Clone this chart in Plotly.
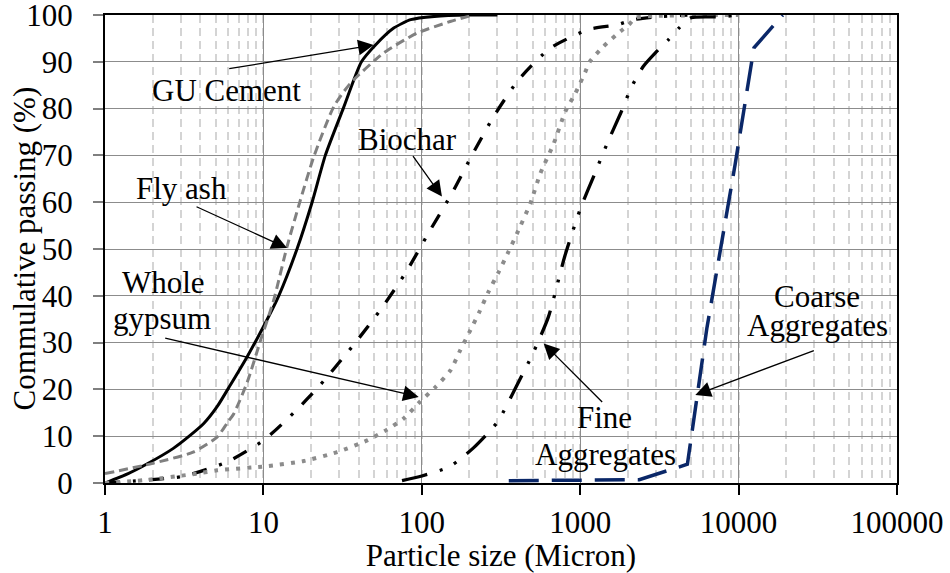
import math
import plotly.graph_objects as go

# Particle size distributions: size in micron, cumulative passing in %
gu_size = [1, 1.4, 1.85, 2.7, 3.4, 4.2, 5.1, 6.2, 7.9, 10, 12.5, 16.3, 20.3, 24.6, 31.9, 41.6, 51, 66.5, 85, 120, 200, 300]
gu_pass = [0, 2, 4.1, 7.4, 10, 12.7, 16.3, 21, 27, 33.4, 40, 50, 60, 70, 80, 90, 93.6, 97.2, 99, 99.7, 100, 100]

fly_size = [1, 2, 3.6, 5.1, 5.9, 6.5, 7.9, 9.6, 11.6, 14.1, 17.1, 20.8, 27.8, 35.4, 57.5, 93, 151, 212]
fly_pass = [2, 4.2, 6.6, 9.8, 12.8, 14.8, 21.5, 30.5, 39, 50.5, 60.4, 69.7, 80.4, 85.4, 91.9, 96.1, 98.6, 100]

bio_size = [1, 1.5, 3.1, 5.9, 10.2, 16.3, 21.8, 25.3, 38.1, 56.2, 80.7, 110.6, 155, 208, 284, 409, 646, 1125, 1710, 2160, 3000, 4750]
bio_pass = [0, 0.4, 1.4, 4.5, 9.3, 15.7, 20.2, 22.7, 30, 37.5, 45.4, 53.5, 61.9, 70.1, 78.3, 86.2, 92.9, 96.9, 97.9, 99, 99.6, 100]

gyp_size = [1, 1.75, 3.8, 5.1, 10.6, 18, 29.2, 45.2, 60.4, 76.9, 97, 122, 152, 175, 203, 232, 264, 306, 349, 400, 485,
            561, 680, 806, 933, 1079, 1148, 1406, 1795, 2025, 2230, 3000, 10000]
gyp_pass = [0, 0.6, 2, 2.7, 3.6, 4.7, 6.6, 9.1, 11.4, 13.8, 17.3, 20.5, 24.1, 28.4, 32.7, 36.7, 40.9, 45.1, 49.1, 53.4, 59.8,
            66.2, 72.5, 79.4, 83.3, 87.9, 90, 93.3, 96.5, 97.9, 99.4, 99.8, 100]

fine_size = [75, 100, 150, 212, 300, 400, 500, 630, 800, 1000, 1250, 1500, 1800, 2100, 2500, 3000, 3600, 4200, 5000, 7500, 10000]
fine_pass = [0.5, 1.5, 3.5, 7.5, 13, 21, 27.5, 35.5, 48.5, 58.5, 66.5, 73, 79, 84.5, 89, 92, 94.7, 97.2, 99.4, 99.6, 100]

coarse_size = [354, 2360, 4750, 6300, 9500, 12500, 19000]
coarse_pass = [0.5, 0.7, 4, 33, 68, 93, 100]

x_ticks = [1, 10, 100, 1000, 10000, 100000]
x_tick_text = ["1", "10", "100", "1000", "10000", "100000"]
y_ticks = [0, 10, 20, 30, 40, 50, 60, 70, 80, 90, 100]

FONT = "Liberation Serif, Times New Roman, serif"
FS = 31

W, H = 950, 573
ML, MR, MT, MB = 105, 53, 15, 90

series = [
    (gu_size, gu_pass, "GU Cement", dict(color="black", width=3, shape="spline", smoothing=0.6)),
    (fly_size, fly_pass, "Fly ash", dict(color="#808080", width=3, dash="9px,5px", shape="spline", smoothing=0.6)),
    (bio_size, bio_pass, "Biochar", dict(color="black", width=3.3, dash="15px,13px,3px,13px", shape="spline", smoothing=0.6)),
    (gyp_size, gyp_pass, "Whole gypsum", dict(color="#8c8c8c", width=4, dash="4px,7px", shape="spline", smoothing=0.6)),
    (fine_size, fine_pass, "Fine Aggregates", dict(color="black", width=3.3, dash="26px,13px,3px,13px,3px,13px",
                                                   shape="spline", smoothing=0.6)),
    (coarse_size, coarse_pass, "Coarse Aggregates", dict(color="#0a2768", width=3.5, dash="30px,13px")),
]

fig = go.Figure()
for xs, ys, name, line in series:
    fig.add_trace(go.Scatter(x=xs, y=ys, mode="lines", name=name, line=line, showlegend=False))


def to_paper(px, py):
    return (px - ML) / (W - ML - MR), (H - MB - py) / (H - MT - MB)


# Label text: (text, centre x px, baseline y px)
labels = [
    ("GU Cement", 226, 100),
    ("Fly ash", 181, 198),
    ("Biochar", 407.5, 149),
    ("Whole", 163, 292),
    ("gypsum", 162, 328),
    ("Fine", 604, 427),
    ("Aggregates", 605, 463.3),
    ("Coarse", 817, 306),
    ("Aggregates", 817, 335),
]
annotations = []
for text, px, base in labels:
    xp, yp = to_paper(px, base - 0.3 * FS)
    annotations.append(dict(text=text, x=xp, y=yp, xref="paper", yref="paper", showarrow=False,
                            xanchor="center", yanchor="middle", font=dict(family=FONT, size=FS, color="black")))

# Y-axis title, set as a rotated label beside the tick labels
tx, _ = to_paper(23.5, 0)
annotations.append(dict(text="Commulative passing (%)", x=tx, y=0.5, xref="paper", yref="paper", showarrow=False,
                        textangle=-90, xanchor="center", yanchor="middle",
                        font=dict(family=FONT, size=FS, color="black")))

# Leader arrows: tip on the curve (size, passing), tail offset in px
arrows = [
    (49.7, 93.6, -146, 24),
    (14.1, 50.2, -92, -42),
    (134, 61.2, -30, -42),
    (95.6, 18.4, -255, -59),
    (588, 29.8, 60, 60),
    (5333, 18.8, 120, -45),
]
for sx, sy, ax, ay in arrows:
    annotations.append(dict(text="", x=math.log10(sx), y=sy, xref="x", yref="y", ax=ax, ay=ay,
                            showarrow=True, arrowhead=2, arrowsize=2.4, arrowwidth=1.3,
                            arrowcolor="black", standoff=0))

fig.update_layout(
    width=W, height=H,
    margin=dict(l=ML, r=MR, t=MT, b=MB, pad=0, autoexpand=False),
    paper_bgcolor="white", plot_bgcolor="white",
    font=dict(family=FONT, size=FS, color="black"),
    annotations=annotations,
)

fig.update_xaxes(
    type="log", range=[0, 5], automargin=False,
    tickvals=x_ticks, ticktext=x_tick_text,
    ticks="outside", ticklen=10, tickwidth=1.5, tickcolor="black",
    showline=True, linecolor="black", linewidth=2, mirror=True,
    showgrid=True, gridcolor="#8c8c8c", gridwidth=1.3,
    minor=dict(dtick="D1", showgrid=True, gridcolor="#d4d4d4", gridwidth=1.5, griddash="8px,5px", ticks=""),
    title=dict(text="Particle size (Micron)", font=dict(family=FONT, size=FS), standoff=0),
    tickfont=dict(family=FONT, size=FS),
    ticklabelstandoff=1, ticklabeloverflow="allow",
    zeroline=False,
)
fig.update_yaxes(
    range=[0, 100], tickvals=y_ticks, automargin=False,
    ticks="outside", ticklen=10, tickwidth=1.5, tickcolor="#7f7f7f",
    showline=True, linecolor="black", linewidth=2, mirror=True,
    showgrid=True, gridcolor="#8c8c8c", gridwidth=1.3,
    tickfont=dict(family=FONT, size=FS),
    ticklabelstandoff=14, ticklabeloverflow="allow",
    zeroline=False,
)

fig.write_html("out.html")
